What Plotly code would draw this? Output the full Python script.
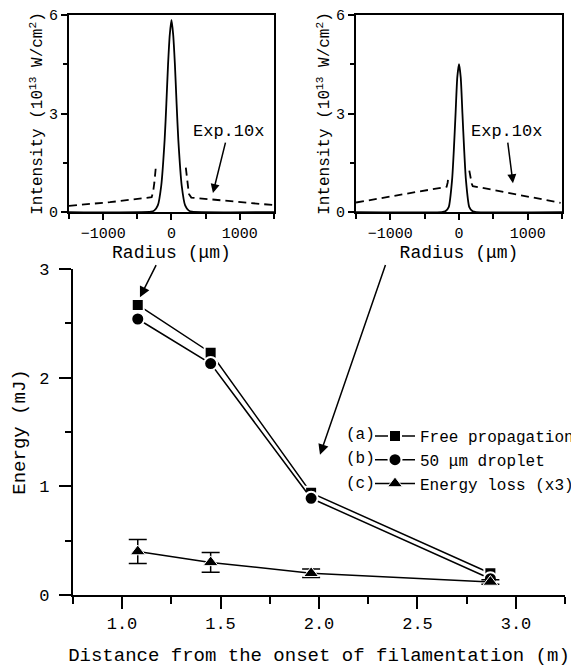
import plotly.graph_objects as go

# main plot: energy vs distance
distance = [1.08, 1.45, 1.96, 2.87]
energy_free = [2.67, 2.23, 0.94, 0.20]
energy_droplet = [2.54, 2.13, 0.89, 0.15]
energy_loss = [0.40, 0.30, 0.20, 0.12]
loss_err = [0.11, 0.09, 0.04, 0.02]

# inset 1 (free propagation) radial profile
radius_a = [-1500, -300, -250, -200, -150, -100, -75, -50, -25, 0, 25, 50, 75, 100, 150, 200, 250, 300, 1500]
intensity_a = [0, 0.01, 0.05, 0.2, 0.8, 2.2, 3.3, 4.5, 5.4, 5.85, 5.4, 4.5, 3.3, 2.2, 0.8, 0.2, 0.05, 0.01, 0]
exp_radius_a = [-1500, -900, -290, -270, -250, -230, None, 210, 230, 255, 290, 900, 1500]
exp_intensity_a = [0.19, 0.3, 0.45, 0.6, 0.9, 1.35, None, 1.35, 0.9, 0.55, 0.44, 0.33, 0.21]

# inset 2 (droplet) radial profile
radius_b = [-1500, -250, -200, -150, -100, -75, -50, -25, 0, 25, 50, 75, 100, 150, 200, 250, 1500]
intensity_b = [0, 0, 0.02, 0.15, 1.0, 1.9, 3.0, 4.1, 4.5, 4.1, 3.0, 1.9, 1.0, 0.15, 0.02, 0, 0]
exp_radius_b = [-1500, -180, -165, -155, None, 150, 170, 185, 200, 1480]
exp_intensity_b = [0.29, 0.77, 0.9, 1.08, None, 1.26, 1.0, 0.87, 0.79, 0.28]

labels = ["(a)", "(b)", "(c)"]

FONT = "Liberation Mono"
BLACK = "black"
W, H = 571, 662   # page body keeps an 8px margin

fig = go.Figure()

fig.add_trace(go.Scatter(
    x=distance, y=energy_free, mode="lines+markers", name="Free propagation",
    line=dict(color=BLACK, width=1.5),
    marker=dict(symbol="square", size=12, color=BLACK, line=dict(color="white", width=2))))
fig.add_trace(go.Scatter(
    x=distance, y=energy_droplet, mode="lines+markers", name="50 μm droplet",
    line=dict(color=BLACK, width=1.5),
    marker=dict(symbol="circle", size=13, color=BLACK, line=dict(color="white", width=2))))
fig.add_trace(go.Scatter(
    x=distance, y=energy_loss, mode="lines+markers", name="Energy loss (x3)",
    line=dict(color=BLACK, width=1.5),
    marker=dict(symbol="triangle-up", size=13, color=BLACK, line=dict(color="white", width=1)),
    error_y=dict(type="data", array=loss_err, color=BLACK, thickness=1.5, width=9)))

# insets
fig.add_trace(go.Scatter(x=radius_a, y=intensity_a, mode="lines", xaxis="x2", yaxis="y2",
                         line=dict(color=BLACK, width=1.8, shape="spline", smoothing=0.6), showlegend=False))
fig.add_trace(go.Scatter(x=exp_radius_a, y=exp_intensity_a, mode="lines", xaxis="x2", yaxis="y2",
                         line=dict(color=BLACK, width=1.8, dash="8px,5px"), showlegend=False))
fig.add_trace(go.Scatter(x=radius_b, y=intensity_b, mode="lines", xaxis="x3", yaxis="y3",
                         line=dict(color=BLACK, width=1.8, shape="spline", smoothing=0.6), showlegend=False))
fig.add_trace(go.Scatter(x=exp_radius_b, y=exp_intensity_b, mode="lines", xaxis="x3", yaxis="y3",
                         line=dict(color=BLACK, width=1.8, dash="8px,5px"), showlegend=False))

main_ax = dict(showline=True, linecolor=BLACK, linewidth=2, ticks="outside", ticklen=12, tickwidth=2,
               tickcolor=BLACK, showgrid=False, zeroline=False, tickfont=dict(family=FONT, size=17, color=BLACK))
inset_ax = dict(showline=True, mirror=True, linecolor=BLACK, linewidth=2, ticks="outside", ticklen=6, tickwidth=1.5,
                tickcolor=BLACK, showgrid=False, zeroline=False, tickfont=dict(family=FONT, size=15, color=BLACK))

fig.update_layout(
    width=W, height=H,
    margin=dict(l=0, r=0, t=0, b=0, autoexpand=False),
    paper_bgcolor="white", plot_bgcolor="white",
    font=dict(family=FONT, color=BLACK),
    xaxis=dict(domain=[0.1134, 0.9759], range=[0.75, 3.25], anchor="y", tick0=1.0, dtick=0.5, tickformat=".1f",
               minor=dict(ticks="outside", ticklen=7, tickwidth=2, tick0=0.75, dtick=0.25, tickcolor=BLACK),
               title=dict(text="Distance from the onset of filamentation (m)", font=dict(size=19), standoff=14),
               **main_ax),
    yaxis=dict(domain=[0.1133, 0.6057], range=[0, 3], anchor="x", tick0=0, dtick=1,
               minor=dict(ticks="outside", ticklen=6, tickwidth=2, tick0=0, dtick=0.5, tickcolor=BLACK),
               title=dict(text="Energy (mJ)", font=dict(size=19), standoff=8), ticklabelstandoff=6,
               **main_ax),
    xaxis2=dict(domain=[0.1068, 0.4658], range=[-1500, 1500], anchor="y2", dtick=1000,
                minor=dict(ticks="outside", ticklen=5, dtick=500, tickcolor=BLACK),
                title=dict(text="Radius (μm)", font=dict(size=18), standoff=2), **inset_ax),
    yaxis2=dict(domain=[0.6918, 0.9894], range=[0, 6], anchor="x2", dtick=3,
                minor=dict(ticks="outside", ticklen=4, dtick=1.5, tickcolor=BLACK),
                title=dict(text="Intensity (10<sup>13</sup> W/cm<sup>2</sup>)", font=dict(size=16), standoff=2),
                **inset_ax),
    xaxis3=dict(domain=[0.6095, 0.9702], range=[-1500, 1500], anchor="y3", dtick=1000,
                minor=dict(ticks="outside", ticklen=5, dtick=500, tickcolor=BLACK),
                title=dict(text="Radius (μm)", font=dict(size=18), standoff=2), **inset_ax),
    yaxis3=dict(domain=[0.6918, 0.9894], range=[0, 6], anchor="x3", dtick=3,
                minor=dict(ticks="outside", ticklen=4, dtick=1.5, tickcolor=BLACK),
                title=dict(text="Intensity (10<sup>13</sup> W/cm<sup>2</sup>)", font=dict(size=16), standoff=2),
                **inset_ax),
    legend=dict(x=362 / W, y=1 - 411 / H, xanchor="left", yanchor="top", bgcolor="rgba(0,0,0,0)",
                itemwidth=40, font=dict(family=FONT, size=16, color=BLACK), tracegroupgap=0),
)

annots = []
# (a), (b), (c) labels in front of legend entries
for i, lab in enumerate(labels):
    annots.append(dict(text=lab, xref="paper", yref="paper", x=369 / W, y=1 - (427 + 24.5 * i) / H,
                       xanchor="right", yanchor="middle", showarrow=False,
                       font=dict(family=FONT, size=16, color=BLACK)))

# Exp.10x labels
annots.append(dict(text="Exp.10x", x=607, y=0.58, xref="x2", yref="y2", ax=830, ay=2.45, axref="x2", ayref="y2",
                   showarrow=True, arrowhead=2, arrowsize=1.2, arrowwidth=1.5, arrowcolor=BLACK,
                   font=dict(family=FONT, size=17, color=BLACK)))
annots.append(dict(text="Exp.10x", x=786, y=0.88, xref="x3", yref="y3", ax=690, ay=2.45, axref="x3", ayref="y3",
                   showarrow=True, arrowhead=2, arrowsize=1.2, arrowwidth=1.5, arrowcolor=BLACK,
                   font=dict(family=FONT, size=17, color=BLACK)))

# arrows from insets to data points
annots.append(dict(text="", x=1.091, y=2.74, xref="x", yref="y", ax=1.177, ay=3.05, axref="x", ayref="y",
                   showarrow=True, arrowhead=2, arrowsize=1.4, arrowwidth=1.5, arrowcolor=BLACK))
annots.append(dict(text="", x=2.005, y=1.29, xref="x", yref="y", ax=2.34, ay=3.05, axref="x", ayref="y",
                   showarrow=True, arrowhead=2, arrowsize=1.4, arrowwidth=1.5, arrowcolor=BLACK))

fig.update_layout(annotations=annots)

fig.write_html("out.html")
